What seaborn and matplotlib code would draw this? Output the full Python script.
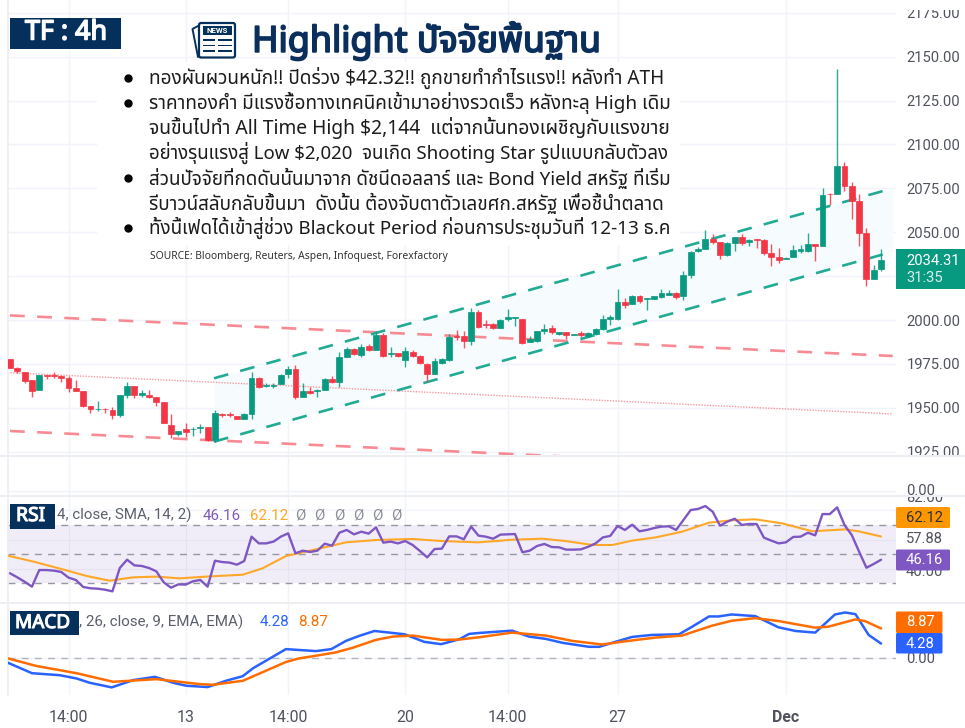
import numpy as np
import matplotlib
matplotlib.use('Agg')
import matplotlib.pyplot as plt
import matplotlib.patheffects as pe
from matplotlib.patches import Rectangle, FancyBboxPatch
import seaborn as sns

# candles (open, high, low, close)
opens = [1977.6, 1972.4, 1970.6, 1965.6, 1959.9, 1968.8, 1968.8, 1968.3, 1966.8, 1961.2,
         1959.7, 1951.2, 1949.1, 1949.6, 1948.7, 1945.9, 1957.2, 1962.4, 1957.4, 1957.2,
         1956.3, 1953.4, 1940.1, 1935.2, 1937.7, 1937.7, 1938.4, 1938.8, 1931.6, 1946.6,
         1946.4, 1945.1, 1943.8, 1946.2, 1966.9, 1962.4, 1962.4, 1963.5, 1969.2, 1972.3,
         1956.3, 1959.7, 1959.7, 1960.1, 1966.2, 1964.5, 1979.1, 1983.3, 1979.9, 1985.0,
         1982.9, 1991.6, 1980.6, 1981.2, 1977.2, 1981.9, 1979.5, 1974.9, 1969.4, 1975.7,
         1977.2, 1990.9, 1990.7, 1988.2, 2004.6, 1998.0, 1998.0, 1995.7, 2000.8, 2001.4,
         2000.3, 1987.5, 1987.9, 1993.8, 1995.5, 1992.3, 1992.9, 1991.5, 1992.7, 1990.8,
         1991.9, 1994.6, 2000.8, 2000.8, 2010.4, 2009.0, 2013.6, 2011.7, 2012.2, 2013.2,
         2014.5, 2015.1, 2013.6, 2025.6, 2039.4, 2040.4, 2046.4, 2044.2, 2037.0, 2044.0,
         2047.0, 2044.7, 2045.9, 2045.5, 2037.9, 2035.6, 2034.7, 2036.0, 2039.4, 2039.4,
         2043.2, 2042.1, 2071.7, 2071.7, 2087.7, 2076.3, 2067.9, 2049.7, 2023.6, 2029.3]
highs = [1977.6, 1973.4, 1970.6, 1965.6, 1968.8, 1968.9, 1970.6, 1968.5, 1968.1, 1965.8,
         1959.7, 1951.2, 1954.0, 1949.8, 1950.2, 1957.4, 1964.8, 1962.4, 1960.1, 1960.1,
         1956.3, 1953.4, 1946.2, 1936.7, 1941.1, 1939.2, 1940.5, 1938.8, 1948.7, 1947.2,
         1947.6, 1945.1, 1947.2, 1970.6, 1967.7, 1963.9, 1963.9, 1969.2, 1973.8, 1974.2,
         1963.9, 1961.6, 1960.5, 1966.8, 1968.1, 1981.9, 1984.4, 1983.9, 1986.3, 1986.3,
         1993.0, 1992.4, 1984.8, 1981.4, 1984.4, 1982.9, 1980.1, 1975.7, 1978.5, 1978.5,
         1992.0, 1994.3, 1993.9, 2006.7, 2005.6, 1999.9, 1998.2, 2000.3, 2006.0, 2001.8,
         2000.3, 1990.8, 1993.8, 1997.6, 1997.4, 1993.2, 1993.2, 1991.9, 1993.8, 1993.2,
         1995.5, 2002.8, 2002.8, 2017.6, 2012.8, 2014.2, 2014.5, 2012.8, 2013.6, 2017.4,
         2017.0, 2015.7, 2028.0, 2039.4, 2041.3, 2051.2, 2048.9, 2044.2, 2044.2, 2047.4,
         2048.9, 2046.4, 2046.3, 2046.1, 2043.2, 2040.8, 2036.0, 2042.6, 2042.6, 2049.3,
         2043.2, 2074.9, 2072.1, 2143.0, 2090.1, 2078.4, 2071.5, 2052.5, 2031.2, 2040.4]
lows = [1972.4, 1970.0, 1963.9, 1955.9, 1959.9, 1966.6, 1966.8, 1964.5, 1959.0, 1959.5,
        1950.6, 1946.8, 1948.3, 1947.2, 1943.9, 1944.5, 1955.4, 1955.7, 1956.1, 1955.4,
        1951.2, 1941.1, 1932.7, 1934.1, 1933.5, 1933.9, 1935.8, 1931.2, 1930.7, 1944.9,
        1944.5, 1943.4, 1943.4, 1943.9, 1961.1, 1961.6, 1961.2, 1963.5, 1966.9, 1955.2,
        1956.3, 1957.8, 1955.9, 1960.1, 1964.3, 1961.6, 1978.7, 1980.1, 1978.7, 1982.5,
        1982.9, 1979.1, 1978.7, 1979.1, 1973.0, 1978.7, 1974.9, 1964.9, 1969.0, 1974.9,
        1976.8, 1988.6, 1983.9, 1985.7, 1995.5, 1995.7, 1995.0, 1995.7, 1999.5, 1996.5,
        1986.6, 1987.5, 1987.5, 1992.3, 1991.9, 1991.4, 1989.4, 1991.2, 1990.4, 1990.4,
        1991.4, 1994.2, 1997.0, 1999.9, 2007.1, 2009.0, 2009.8, 2005.6, 2012.1, 2012.8,
        2014.2, 2011.7, 2011.3, 2023.7, 2038.9, 2040.2, 2043.2, 2035.0, 2036.4, 2039.4,
        2042.8, 2042.1, 2040.8, 2037.0, 2030.7, 2032.6, 2034.5, 2035.6, 2038.3, 2038.9,
        2033.5, 2042.1, 2065.3, 2071.7, 2073.6, 2057.3, 2042.1, 2019.3, 2023.6, 2028.0]
closes = [1972.4, 1970.9, 1965.4, 1959.7, 1968.8, 1968.3, 1968.1, 1966.8, 1961.1, 1959.5,
          1951.2, 1949.3, 1949.6, 1949.1, 1945.9, 1957.4, 1962.4, 1957.2, 1958.2, 1956.3,
          1953.4, 1941.5, 1935.0, 1936.7, 1936.3, 1938.2, 1939.0, 1931.6, 1946.8, 1945.9,
          1945.7, 1943.8, 1946.2, 1967.1, 1961.8, 1962.8, 1963.2, 1968.7, 1972.3, 1956.3,
          1959.7, 1958.4, 1960.1, 1966.2, 1964.5, 1979.1, 1983.3, 1980.6, 1984.6, 1982.9,
          1991.6, 1979.5, 1981.4, 1979.5, 1982.5, 1979.5, 1975.3, 1969.4, 1976.6, 1977.8,
          1990.1, 1990.1, 1988.2, 2004.8, 1996.1, 1997.4, 1995.7, 1999.9, 2001.8, 2001.8,
          1987.0, 1988.9, 1993.8, 1995.1, 1992.9, 1993.2, 1991.2, 1991.9, 1991.5, 1992.7,
          1995.1, 2000.3, 2001.8, 2010.4, 2008.8, 2013.6, 2010.7, 2012.4, 2013.6, 2015.1,
          2015.5, 2013.2, 2025.6, 2038.9, 2040.4, 2046.4, 2044.2, 2037.0, 2043.6, 2047.0,
          2043.6, 2045.5, 2045.3, 2037.9, 2036.0, 2034.1, 2035.2, 2039.8, 2040.4, 2043.2,
          2042.3, 2071.3, 2071.5, 2087.7, 2076.3, 2067.9, 2049.3, 2023.6, 2028.4, 2034.31]

# channels drawn on the chart, in (candle index, price)
green_x = [27.87, 120.6]
green_upper = [1966.8, 2075.0]
green_lower = [1930.7, 2038.9]
red_x = [0.0, 120.6]
red_upper = [2002.6, 1979.5]
red_lower = [1936.8, 1913.7]
mid_x = [-0.3, 120.6]
mid_line = [1970.0, 1946.5]

rsi = [36.9, 34.1, 31.1, 27.7, 39.1, 39.1, 38.7, 37.8, 33.9, 32.3, 27.5, 26.6, 26.3, 25.6, 24.5,
       40.5, 46.2, 42.3, 41.9, 40.5, 38.2, 30.7, 27.0, 29.3, 29.1, 31.4, 32.3, 27.7, 45.5, 44.6,
       44.2, 42.8, 45.3, 62.0, 57.4, 57.4, 58.6, 62.0, 64.3, 50.6, 52.4, 51.5, 52.4, 57.2, 55.8,
       64.7, 66.6, 63.6, 65.4, 64.1, 68.4, 57.9, 58.6, 57.4, 59.0, 56.3, 52.2, 47.8, 53.5, 53.8,
       62.2, 62.2, 60.2, 68.9, 62.7, 62.0, 60.6, 63.4, 63.6, 63.8, 51.3, 52.4, 55.6, 57.0, 54.9,
       54.7, 53.1, 53.1, 53.3, 55.1, 57.4, 61.5, 62.5, 69.3, 66.6, 70.2, 65.7, 66.6, 67.9, 68.9,
       69.1, 66.6, 73.4, 80.3, 81.0, 83.0, 79.1, 69.5, 72.3, 74.3, 70.0, 70.7, 70.7, 61.3, 59.3,
       57.4, 58.1, 61.8, 62.0, 64.7, 62.9, 77.5, 77.5, 82.1, 70.0, 63.1, 51.7, 40.7, 43.3, 46.16]
rsi_ma_x = [-0.3, 3.2, 7.7, 10.5, 13.6, 16.8, 20.0, 23.2, 26.8, 31.8, 34.5, 37.7, 41.8, 45.9, 50.0,
            55.0, 59.0, 64.0, 68.6, 72.7, 75.9, 79.6, 82.3, 85.0, 88.2, 91.8, 95.5, 98.6, 101.8,
            105.5, 109.6, 114.1, 115.9, 119.0]
rsi_ma = [49.0, 44.9, 38.9, 35.0, 31.8, 34.1, 34.6, 33.4, 34.6, 35.9, 40.3, 48.7, 53.3, 58.1, 59.7,
          60.4, 59.0, 58.1, 59.9, 60.6, 59.0, 56.3, 56.3, 59.3, 61.5, 65.4, 71.6, 73.2, 73.9,
          71.1, 65.7, 67.0, 65.7, 62.12]

macd_x = [-0.3, 3.0, 6.8, 9.1, 10.9, 13.9, 16.8, 19.8, 22.3, 24.1, 27.0, 29.5, 31.8, 33.2, 37.7,
          41.8, 43.9, 45.9, 47.7, 49.8, 53.9, 56.6, 58.9, 61.4, 62.7, 64.1, 68.6, 70.9, 73.2,
          75.5, 79.1, 80.5, 82.7, 85.0, 87.7, 91.4, 93.2, 95.5, 96.8, 98.6, 101.8, 105.0, 107.3,
          110.0, 112.7, 114.1, 115.5, 117.3, 119.0]
macd = [-1.5, -4.7, -5.3, -6.3, -7.6, -9.0, -6.8, -5.8, -7.6, -8.5, -8.9, -7.0, -5.6, -3.2, 2.6,
        2.0, 2.6, 5.1, 6.6, 8.1, 7.1, 4.8, 4.1, 5.6, 7.2, 7.5, 8.2, 6.4, 5.7,
        4.5, 3.3, 3.3, 4.8, 6.3, 6.9, 7.1, 9.4, 12.5, 12.5, 13.1, 12.6, 9.2, 8.1,
        7.6, 13.1, 13.7, 13.2, 6.9, 4.28]
signal_x = [-0.3, 3.6, 9.1, 14.1, 20.0, 25.9, 27.7, 31.8, 34.5, 37.7, 39.5, 41.8, 44.5, 46.8, 50.0,
            52.3, 55.0, 59.0, 61.4, 64.1, 68.6, 73.2, 76.8, 80.9, 84.5, 88.2, 91.8, 95.9, 98.6,
            101.8, 105.0, 110.0, 111.8, 115.5, 116.8, 119.0]
signal = [-0.2, -2.5, -4.7, -7.3, -6.5, -8.0, -8.2, -7.0, -4.4, -1.3, -0.2, 0.6, 1.6, 3.0, 5.4,
          6.4, 6.7, 5.4, 5.5, 6.2, 7.6, 6.7, 5.1, 4.0, 5.1, 6.1, 6.7, 9.7, 11.2,
          12.0, 11.1, 9.1, 9.4, 11.6, 11.1, 8.87]

price_ticks = [1925, 1950, 1975, 2000, 2025, 2050, 2075, 2100, 2125, 2150, 2175]
price_labels = ['1925.00', '1950.00', '1975.00', '2000.00', '', '2050.00', '2075.00', '2100.00',
                '2125.00', '2150.00', '2175.00']
date_pos = [8, 24, 38, 54, 68, 83, 106]
date_labels = ['14:00', '13', '14:00', '20', '14:00', '27', 'Dec']

news_lines = [
    'ทองผันผวนหนัก!! ปิดร่วง $42.32!! ถูกขายทำกำไรแรง!! หลังทำ ATH',
    'ราคาทองคำ มีแรงซื้อทางเทคนิคเข้ามาอย่างรวดเร็ว หลังทะลุ High เดิม',
    'จนขึ้นไปทำ All Time High $2,144  แต่จากนั้นทองเผชิญกับแรงขาย',
    'อย่างรุนแรงสู่ Low $2,020  จนเกิด Shooting Star รูปแบบกลับตัวลง',
    'ส่วนปัจจัยที่กดดันนั้นมาจาก ดัชนีดอลลาร์ และ Bond Yield สหรัฐ ที่เริ่ม',
    'รีบาวน์สลับกลับขึ้นมา  ดังนั้น ต้องจับตาตัวเลขศก.สหรัฐ เพื่อชี้นำตลาด',
    'ทั้งนี้เฟดได้เข้าสู่ช่วง Blackout Period ก่อนการประชุมวันที่ 12-13 ธ.ค',
]
news_ends = [666, 671, 671, 670, 671, 665, 670]
news_y = [78, 103, 128, 153, 178, 203, 228]
bullets = [78, 103, 178, 228]

GREEN, RED = '#089981', '#f23645'
NAVY = '#06305c'
GRID = '#f0f3fa'
AXTXT = '#50535e'
AXFS = 10.6

sns.set_theme(style='white')
plt.rcParams['font.family'] = ['Roboto', 'DejaVu Sans']
THAI = ['Noto Sans Thai', 'Sarabun', 'Anuphan', 'DejaVu Sans']

W, H = 965, 728
fig = plt.figure(figsize=(W / 100, H / 100), dpi=100, facecolor='white')


def panel(top, bottom):
    # axes from pixel rows
    ax = fig.add_axes([8 / W, 1 - bottom / H, 888 / W, (bottom - top) / H])
    ax.set_xlim(-0.27, 121.04)
    ax.set_xticks(date_pos)
    ax.set_xticklabels([])
    ax.grid(True, color=GRID, linewidth=1.0)
    ax.set_axisbelow(True)
    ax.yaxis.tick_right()
    ax.tick_params(axis='both', length=0, labelsize=AXFS, labelcolor=AXTXT, pad=7.5)
    for s in ax.spines.values():
        s.set_visible(False)
    ax.spines['left'].set_visible(True)
    ax.spines['left'].set_color('#eceef3')
    ax.patch.set_alpha(0)
    return ax


ax = panel(0, 455)
ax.set_ylim(2000 - 135 / 1.756, 2000 + 320 / 1.756)
ax.set_yticks(price_ticks)
ax.set_yticklabels(price_labels)

ax.fill_between(green_x, green_lower, green_upper, color='#f6fcfd', zorder=1, linewidth=0)
chan_dash = (0, (5.6, 4.7))
sns.lineplot(x=red_x, y=red_upper, ax=ax, color='#f78a93', linewidth=1.9, linestyle=chan_dash, zorder=2)
sns.lineplot(x=red_x, y=red_lower, ax=ax, color='#f78a93', linewidth=1.9, linestyle=chan_dash, zorder=2)
sns.lineplot(x=mid_x, y=mid_line, ax=ax, color='#f59aa2', linewidth=1.0, linestyle=(0, (1, 1)), zorder=2)
sns.lineplot(x=green_x, y=green_upper, ax=ax, color='#22ab94', linewidth=1.9, linestyle=chan_dash, zorder=2)
sns.lineplot(x=green_x, y=green_lower, ax=ax, color='#22ab94', linewidth=1.9, linestyle=chan_dash, zorder=2)

idx = np.arange(len(closes))
o = np.array(opens)
c = np.array(closes)
col = [GREEN if a >= b else RED for a, b in zip(c, o)]
ax.vlines(idx, lows, highs, colors=col, linewidth=1.0, alpha=0.85, zorder=3)
ax.bar(idx, np.abs(c - o), bottom=np.minimum(o, c), width=0.8, color=col, edgecolor=col,
       linewidth=0.5, zorder=4)

# empty strip under the price panel
vol = panel(456, 495)
vol.set_ylim(-4 / 36, 35 / 36)
vol.set_yticks([0])
vol.set_yticklabels([])

ax_rsi = panel(496, 602)
ax_rsi.set_ylim(70 - 77 / 1.458, 70 + 29 / 1.458)
ax_rsi.set_yticks([40, 60, 80])
ax_rsi.set_yticklabels([])
ax_rsi.axhspan(30, 70, color='#7e57c2', alpha=0.1, linewidth=0, zorder=1)
for lev in [30, 50, 70]:
    ax_rsi.axhline(lev, color='#9598a1', linewidth=1.0, linestyle=(0, (5, 4.5)), zorder=2)
sns.lineplot(x=idx, y=rsi, ax=ax_rsi, color='#7e57c2', linewidth=1.7, zorder=4)
sns.lineplot(x=rsi_ma_x, y=rsi_ma, ax=ax_rsi, color='#ffa726', linewidth=1.5, zorder=3)

ax_macd = panel(603, 695)
ax_macd.set_ylim(-37.3 / 3.3, 54.7 / 3.3)
ax_macd.set_yticks([0])
ax_macd.set_yticklabels(['0.00'])
ax_macd.axhline(0, color='#b2b5be', linewidth=1.0, linestyle=(0, (5, 4.5)), zorder=2)
sns.lineplot(x=macd_x, y=macd, ax=ax_macd, color='#2962ff', linewidth=1.8, zorder=3)
sns.lineplot(x=signal_x, y=signal, ax=ax_macd, color='#ff6d00', linewidth=1.8, zorder=4)
ax_macd.set_xticklabels(date_labels)
ax_macd.tick_params(axis='x', pad=11, labelsize=11.4)
ax_macd.get_xticklabels()[-1].set_fontweight('bold')

for a in [ax, vol, ax_rsi, ax_macd]:
    a.set_xlabel('')
    a.set_ylabel('')

# overlay in pixel units for the annotations pasted on the chart
ov = fig.add_axes([0, 0, 1, 1], zorder=10)
ov.set_xlim(0, W)
ov.set_ylim(H, 0)
ov.axis('off')
ov.patch.set_alpha(0)


def box(x0, y0, x1, y1, fc, z=1.0):
    ov.add_patch(Rectangle((x0, y0), x1 - x0, y1 - y0, facecolor=fc, edgecolor='none', zorder=z))


def label(x, y, s, color=AXTXT, z=4.0, size=AXFS, **kw):
    return ov.text(x, y, s, color=color, fontsize=size, ha=kw.pop('ha', 'left'), va='center', zorder=z, **kw)


def fit(t, x0, x1):
    # scale a line of text so that it spans x0..x1
    r = fig.canvas.get_renderer()
    w = t.get_window_extent(r).width
    t.set_fontsize(t.get_fontsize() * (x1 - x0) / w)


def heavy(t, lw):
    # the Thai and Noto faces only come in one weight here, thicken with a stroke
    t.set_path_effects([pe.withStroke(linewidth=lw, foreground=t.get_color())])


for y in [455.5, 602.5]:
    box(0, y - 1, W, y + 1, '#eceef3')
box(896, 0, W, 9.5, 'white', 2)
box(896, 456.5, W, 480, 'white', 2)
box(97, 62, 680, 245, 'white')

# 82.00 sits behind the strip above it, only its lower part shows
label(906, 498, '82.00', z=1.1)
box(896, 484, W, 497, 'white', 1.2)
box(0, 494.5, W, 496.5, '#eceef3', 1.3)
label(906, 491, '0.00', z=1.5)

box(10, 18, 121, 49, NAVY, 3)
t = label(25, 32.5, 'TF : 4h', color='white', size=17, family='Noto Sans')
fit(t, 25, 107)
heavy(t, 1.1)
title = label(252, 41, 'Highlight ปัจจัยพื้นฐาน', color='#0b2f5c', size=25, family=THAI)
heavy(title, 1.3)
fit(title, 252, 601)

for y in bullets:
    ov.plot([128], [y], marker='o', ms=5, color='black', zorder=4)
for s, e, y in zip(news_lines, news_ends, news_y):
    t = label(149, y, s, color='#1c1c1c', size=12, family=THAI)
    fit(t, 149, e)
src = label(150, 256, 'SOURCE: Bloomberg, Reuters, Aspen, Infoquest, Forexfactory', color='#333333',
            size=7.5, family=THAI)
fit(src, 150, 449)

# news icon
ov.plot([198, 192.5, 198], [26, 29, 57], color=NAVY, lw=1.4, zorder=4)
ov.add_patch(FancyBboxPatch((199, 23), 36, 34.5, boxstyle='round,pad=0,rounding_size=2', facecolor='white',
                            edgecolor=NAVY, lw=1.6, zorder=4))
box(203, 25.5, 232, 35, NAVY, 5)
label(217.5, 30.4, 'NEWS', color='white', size=5.6, z=6, fontweight='bold', ha='center')
for y in [40, 45.5, 51]:
    box(203, y - 0.8, 215, y + 0.8, NAVY, 5)
    box(218, y - 0.8, 232, y + 0.8, NAVY, 5)

# last price tag
box(896, 249, W, 288.5, GREEN, 3)
label(906, 261, '2034.31', color='white')
label(906, 278, '31:35', color='#d6f0ea')

# rsi labels
label(906, 539, '57.88', z=1.5)
label(906, 571.5, '40.00', z=1.5)
ov.add_patch(FancyBboxPatch((896, 507), 54, 21, boxstyle='round,pad=0,rounding_size=1.5', fc='#ff9800',
                            ec='none', zorder=3))
label(906, 517.5, '62.12', color='#2a2e39')
ov.add_patch(FancyBboxPatch((896, 549.5), 54, 21, boxstyle='round,pad=0,rounding_size=1.5', fc='#7e57c2',
                            ec='none', zorder=3))
label(906, 560, '46.16', color='white')

# macd labels
ov.add_patch(FancyBboxPatch((896, 611.5), 46.5, 21.5, boxstyle='round,pad=0,rounding_size=1.5', fc='#ff6d00',
                            ec='none', zorder=3))
label(906, 622.5, '8.87', color='white')
ov.add_patch(FancyBboxPatch((896, 633), 46.5, 20.5, boxstyle='round,pad=0,rounding_size=1.5', fc='#2962ff',
                            ec='none', zorder=3))
label(906, 643.5, '4.28', color='white')

# legends with their cover boxes
label(57, 515.5, '4, close, SMA, 14, 2)', color='#5d606b', size=10.9, z=2)
label(203, 515.5, '46.16', color='#7e57c2', size=10.9, z=2)
label(250, 515.5, '62.12', color='#ffa726', size=10.9, z=2)
for x in [300, 319, 339, 358, 377, 396]:
    label(x, 515.5, 'Ø', color='#8d9099', size=10.9, z=2, ha='center')
box(10, 504, 55, 529, NAVY, 3)
t = label(16, 516, 'RSI', color='white', size=12, family='Noto Sans')
fit(t, 16, 45)
heavy(t, 0.8)
label(79, 622, ', 26, close, 9, EMA, EMA)', color='#5d606b', size=10.9, z=2)
label(260, 622, '4.28', color='#2962ff', size=10.9, z=2)
label(298, 622, '8.87', color='#ff6d00', size=10.9, z=2)
box(10, 611, 79, 635, NAVY, 3)
t = label(15, 623, 'MACD', color='white', size=12, family='Noto Sans')
fit(t, 15, 70)
heavy(t, 0.8)

fig.savefig('out.png', dpi=100)
